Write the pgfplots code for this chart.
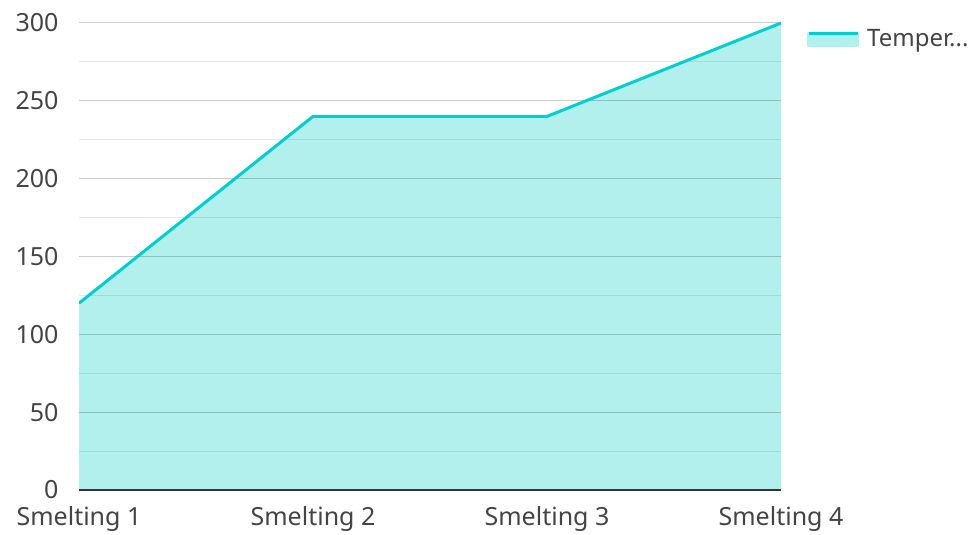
\documentclass[border=0pt]{standalone}
\usepackage{pgfplots}
\pgfplotsset{compat=1.18}
\usepackage{fontspec}
\setmainfont{Noto Sans}
\definecolor{lc}{RGB}{0,206,209}
\definecolor{fc}{RGB}{178,240,238}
\definecolor{tc}{RGB}{68,68,68}
\begin{document}
\begin{tikzpicture}
\begin{axis}[
  set layers=standard,
  at={(0,0)}, anchor=south west,
  scale only axis, width=702pt, height=467pt,
  xmin=0, xmax=3, ymin=0, ymax=300,
  xtick={0,1,2,3},
  xticklabels={Smelting 1,Smelting 2,Smelting 3,Smelting 4},
  ytick={0,50,...,300},
  minor ytick={25,75,...,275},
  ymajorgrids, yminorgrids,
  major grid style={draw=black, draw opacity=0.2, line width=1pt},
  minor grid style={draw=black, draw opacity=0.09, line width=1pt},
  axis x line*=bottom, axis y line*=left,
  y axis line style={draw=none},
  x axis line style={draw={rgb,255:red,51;green,51;blue,51}, line width=1.5pt, -},
  major tick length=0pt, minor tick length=0pt,
  tick label style={font=\fontsize{25}{29}\selectfont, text=tc},
  yticklabel style={xshift=-17pt},
  xticklabel style={yshift=-13pt},
  /pgf/number format/assume math mode=true,
  legend style={at={(rel axis cs:1,1)}, anchor=north west, xshift=26pt, yshift=-4pt, draw=none, fill=none, font=\fontsize{24}{28}\selectfont, text=tc, legend cell align=left, inner sep=0pt},
]
\addplot[on layer=axis background, draw=none, fill=fc, forget plot] coordinates {(0,120) (1,240) (2,240) (3,300)} \closedcycle;
\addplot[draw=lc, line width=3pt, line join=round,
  legend image code/.code={
    \fill[fc] (0pt,-7pt) rectangle (49pt,5pt);
    \draw[lc, line width=3pt] (0pt,5pt) -- (49pt,5pt);
  }] coordinates {(0,120) (1,240) (2,240) (3,300)};
\addlegendentry{\hspace{6pt}Temper...}
\end{axis}
\path[use as bounding box] (-79pt,-43pt) rectangle (892pt,490pt);
\end{tikzpicture}
\end{document}
